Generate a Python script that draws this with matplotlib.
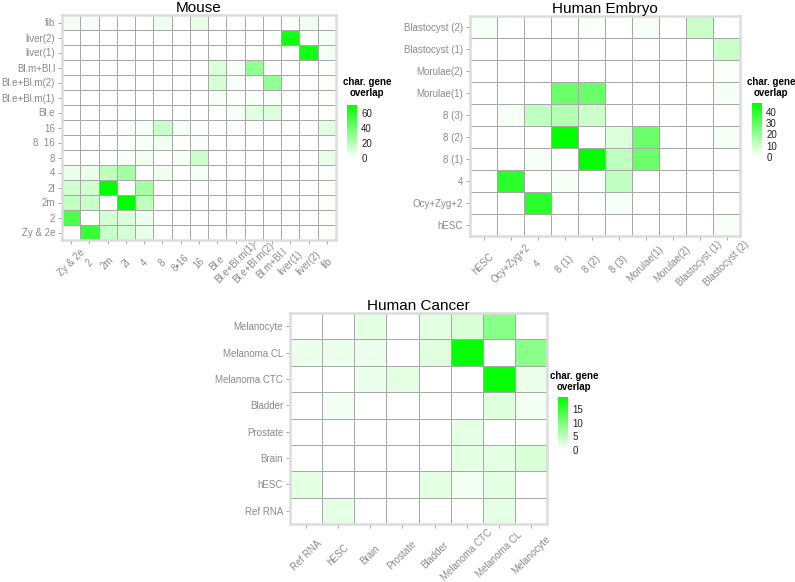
import matplotlib
matplotlib.use("Agg")

import numpy as np
import matplotlib.pyplot as plt
from matplotlib.colors import LinearSegmentedColormap, Normalize
from matplotlib.cm import ScalarMappable

plt.rcParams["font.family"] = ["Liberation Sans", "DejaVu Sans"]

# ==================================================
# Data
# ==================================================
mouse_x_labels = ["Zy & 2e", "2", "2m", "2l", "4", "8", "8\u25aa16", "16", "Bl.e",
                  "Bl.e+Bl.m(1)", "Bl.e+Bl.m(2)", "Bl.m+Bl.l", "liver(1)", "liver(2)", "fib"]
mouse_y_labels = ["Zy & 2e", "2", "2m", "2l", "4", "8", "8  16", "16", "Bl.e",
                  "Bl.e+Bl.m(1)", "Bl.e+Bl.m(2)", "Bl.m+Bl.l", "liver(1)", "liver(2)", "fib"]
# rows follow the y labels from the bottom up
mouse_values = [
    [0, 55, 15, 12, 6, 0, 0, 0, 0, 0, 0, 0, 0, 0, 1],
    [50, 0, 12, 10, 5, 0, 0, 0, 0, 0, 0, 0, 0, 0, 1],
    [17, 15, 0, 70, 18, 0, 0, 0, 0, 0, 0, 0, 0, 0, 1],
    [13, 13, 70, 0, 25, 0, 0, 0, 0, 0, 0, 0, 0, 0, 1],
    [6, 6, 18, 25, 0, 4, 0, 3, 0, 0, 0, 0, 0, 0, 1],
    [0, 0, 0, 2, 4, 0, 3, 15, 0, 0, 0, 0, 0, 0, 6],
    [0, 0, 0, 0, 3, 4, 0, 2, 0, 0, 0, 0, 0, 0, 1],
    [0, 0, 0, 2, 3, 15, 3, 0, 0, 0, 0, 0, 0, 0, 8],
    [0, 0, 0, 0, 0, 0, 0, 0, 0, 3, 8, 10, 0, 0, 1],
    [0, 0, 0, 0, 0, 0, 0, 0, 3, 0, 2, 2, 0, 0, 1],
    [0, 0, 0, 0, 0, 0, 0, 0, 12, 2, 0, 30, 0, 0, 1],
    [0, 0, 0, 0, 0, 0, 0, 0, 10, 2, 30, 0, 0, 0, 1],
    [0, 0, 0, 0, 0, 0, 0, 0, 0, 0, 0, 0, 0, 65, 3],
    [0, 0, 0, 0, 0, 0, 0, 0, 0, 0, 0, 0, 65, 0, 3],
    [3, 3, 0, 0, 0, 5, 0, 7, 0, 0, 0, 0, 0, 4, 0],
]
mouse_ticks = [0, 20, 40, 60]
mouse_max = 70

embryo_labels = ["hESC", "Ocy+Zyg+2", "4", "8 (1)", "8 (2)", "8 (3)",
                 "Morulae(1)", "Morulae(2)", "Blastocyst (1)", "Blastocyst (2)"]
embryo_values = [
    [0, 0, 0, 0, 0, 0, 0, 0, 0, 2],
    [0, 0, 40, 0, 0, 2, 0, 0, 0, 0],
    [0, 40, 0, 2, 0, 12, 0, 0, 0, 0],
    [0, 0, 2, 0, 48, 12, 28, 0, 0, 0],
    [0, 0, 0, 48, 0, 7, 28, 0, 0, 2],
    [0, 2, 12, 14, 10, 0, 0, 0, 0, 0],
    [0, 0, 0, 28, 28, 0, 0, 0, 0, 2],
    [0, 0, 0, 0, 0, 0, 0, 0, 0, 1],
    [0, 0, 0, 0, 0, 0, 0, 0, 0, 10],
    [2, 0, 0, 0, 1, 0, 2, 0, 10, 0],
]
embryo_ticks = [0, 10, 20, 30, 40]
embryo_max = 48

cancer_labels = ["Ref RNA", "hESC", "Brain", "Prostate", "Bladder",
                 "Melanoma CTC", "Melanoma CL", "Melanocyte"]
cancer_values = [
    [0, 2, 0, 0, 0, 0, 2, 0],
    [2, 0, 0, 0, 2, 1, 2, 0],
    [0, 0, 0, 0, 0, 2, 2, 3],
    [0, 0, 0, 0, 0, 2, 0, 0],
    [0, 1, 0, 0, 0, 0, 2.5, 1],
    [0, 0, 1.5, 2, 0, 0, 19, 1.5],
    [1.5, 1.5, 1.5, 0, 2.5, 19, 0, 9],
    [0, 0, 2, 0, 2, 3, 9, 0],
]
cancer_ticks = [0, 5, 10, 15]
cancer_max = 19.5

W, H = 795, 582
cmap = LinearSegmentedColormap.from_list("wg", ["#ffffff", "#00ff00"])
LABEL_GREY = "#8a8a8a"


def rect(x0, y0, x1, y1):
    # pixel box (top-left origin) -> figure fraction
    return [x0 / W, 1 - y1 / H, (x1 - x0) / W, (y1 - y0) / H]


# ==================================================
# Heatmap helper
# ==================================================
def draw_heatmap(fig, box, values, xlabels, ylabels, vmax, title, xlab_offset):
    ax = fig.add_axes(rect(*box))
    data = np.array(values, dtype=float)
    ax.pcolormesh(data, cmap=cmap, vmin=0, vmax=vmax,
                  edgecolors="#a8a8a8", linewidth=0.5)
    n_rows, n_cols = data.shape
    ax.set_xlim(0, n_cols)
    ax.set_ylim(0, n_rows)
    ax.set_xticks(np.arange(n_cols) + 0.5)
    ax.set_yticks(np.arange(n_rows) + 0.5)
    # rotated labels centred under their tick, like ggplot's angle = 45
    ax.set_xticklabels(xlabels, rotation=45, ha="center", va="center",
                       rotation_mode="anchor")
    ax.set_yticklabels(ylabels)
    ax.tick_params(axis="both", colors="#9a9a9a", labelcolor=LABEL_GREY,
                   labelsize=7, length=3, width=0.6, pad=2)
    ax.tick_params(axis="x", pad=xlab_offset * 0.72 - 3)
    for sp in ax.spines.values():
        sp.set_color("#dcdcdc")
        sp.set_linewidth(1.8)
    ax.set_title(title, fontsize=11, pad=2)
    return ax


def draw_colorbar(fig, box, vmax, ticks, title_xy):
    cax = fig.add_axes(rect(*box))
    sm = ScalarMappable(norm=Normalize(0, vmax), cmap=cmap)
    cb = fig.colorbar(sm, cax=cax, ticks=ticks)
    cb.outline.set_visible(False)
    cax.tick_params(length=0, labelsize=7, pad=3, labelcolor="#222222")
    fig.text(title_xy[0] / W, 1 - title_xy[1] / H, "char. gene\noverlap",
             ha="center", va="bottom", fontsize=7, fontweight="bold",
             linespacing=1.1)


# ==================================================
# Figure
# ==================================================
fig = plt.figure(figsize=(W / 100, H / 100), dpi=100)

draw_heatmap(fig, (62, 15, 336, 240), mouse_values, mouse_x_labels,
             mouse_y_labels, mouse_max, "Mouse", 23)
draw_colorbar(fig, (347, 105, 357, 158), mouse_max, mouse_ticks, (367, 98))

draw_heatmap(fig, (470, 16, 740, 236), embryo_values, embryo_labels,
             embryo_labels, embryo_max, "Human Embryo", 28)
draw_colorbar(fig, (752, 103, 762, 157), embryo_max, embryo_ticks, (771, 98))

draw_heatmap(fig, (290, 313, 547, 524), cancer_values, cancer_labels,
             cancer_labels, cancer_max, "Human Cancer", 31)
draw_colorbar(fig, (558, 397, 568, 450), cancer_max, cancer_ticks, (574, 392))

fig.savefig("out.png", dpi=100)
plt.close(fig)
